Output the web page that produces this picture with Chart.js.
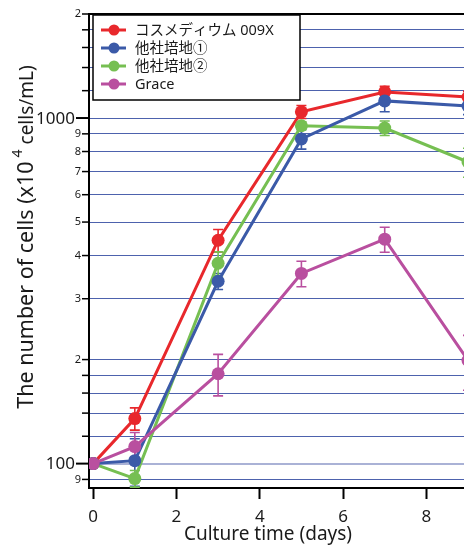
<!DOCTYPE html>
<html>
<head>
<meta charset="utf-8">
<script src="https://cdn.jsdelivr.net/npm/chart.js@4"></script>
<style>
  html, body { margin: 0; padding: 0; background: #fff; overflow: hidden; }
  #wrap { width: 464px; height: 545px; overflow: hidden; }
</style>
</head>
<body>
<div id="wrap"><canvas id="cellChart" width="487" height="545"></canvas></div>
<script>
// data
const days = [0, 1, 3, 5, 7, 9];
const cosmedium = [100, 135, 443, 1042, 1190, 1150];
const cosmediumErr = [0, 10, 33, 45, 45, 45];
const other1 = [100, 102, 337, 870, 1121, 1083];
const other1Err = [0, 16, 18, 57, 78, 60];
const other2 = [100, 90.5, 380, 950, 935, 746];
const other2Err = [0, 5, 30, 25, 45, 72];
const grace = [100, 112, 182, 355, 446, 199];
const graceErr = [0, 11, 25, 30, 37, 36];

const seriesNames = ['コスメディウム 009X', '他社培地①', '他社培地②', 'Grace'];
const xTicks = [0, 2, 4, 6, 8];
const yTicks = [90, 100, 120, 140, 160, 180, 200, 300, 400, 500, 600, 700, 800, 900,
                1000, 1200, 1400, 1600, 1800, 2000];
const yTickLabels = {90: '9', 100: '100', 200: '2', 300: '3', 400: '4', 500: '5', 600: '6',
                     700: '7', 800: '8', 900: '9', 1000: '1000', 2000: '2'};

const FONT = "'Noto Sans', 'Noto Sans CJK JP', sans-serif";

function series(label, values, errs, color, order) {
    return {
        label: label,
        data: days.map((d, i) => ({ x: d, y: values[i] })),
        errors: errs,
        borderColor: color,
        backgroundColor: color,
        borderWidth: 3,
        pointRadius: 6.5,
        pointHoverRadius: 6.5,
        pointBorderWidth: 0,
        tension: 0,
        order: order
    };
}

// error bars, drawn under the lines
const errorBars = {
    id: 'errorBars',
    beforeDatasetsDraw(chart) {
        const { ctx, chartArea, scales: { x, y } } = chart;
        ctx.save();
        ctx.beginPath();
        ctx.rect(chartArea.left, chartArea.top, chartArea.right - chartArea.left, chartArea.bottom - chartArea.top);
        ctx.clip();
        chart.data.datasets.forEach(ds => {
            ctx.strokeStyle = ds.borderColor;
            ctx.lineWidth = 1.6;
            ds.data.forEach((p, i) => {
                const e = ds.errors[i];
                if (!e) return;
                const px = x.getPixelForValue(p.x);
                const top = y.getPixelForValue(p.y + e);
                const bot = y.getPixelForValue(p.y - e);
                ctx.beginPath();
                ctx.moveTo(px, top); ctx.lineTo(px, bot);
                ctx.moveTo(px - 5, top); ctx.lineTo(px + 5, top);
                ctx.moveTo(px - 5, bot); ctx.lineTo(px + 5, bot);
                ctx.stroke();
            });
        });
        ctx.restore();
    }
};

// frame, y tick marks/labels, axis titles, legend box
const decorations = {
    id: 'decorations',
    afterDraw(chart) {
        const { ctx, chartArea, scales: { y } } = chart;
        const left = chartArea.left;
        ctx.save();

        // top frame line
        ctx.strokeStyle = '#000';
        ctx.lineWidth = 2;
        ctx.beginPath();
        ctx.moveTo(left - 1, chartArea.top);
        ctx.lineTo(chartArea.right, chartArea.top);
        ctx.stroke();

        // y ticks and labels
        ctx.fillStyle = '#1a1a1a';
        ctx.textBaseline = 'middle';
        ctx.textAlign = 'right';
        yTicks.forEach(v => {
            const py = y.getPixelForValue(v);
            const major = (v === 100 || v === 1000);
            const len = major ? 13 : 7;
            ctx.lineWidth = major ? 2 : 1.5;
            ctx.beginPath();
            ctx.moveTo(left - len, py);
            ctx.lineTo(left, py);
            ctx.stroke();
            const lab = yTickLabels[v];
            if (lab) {
                ctx.font = (major ? '17px ' : '11px ') + FONT;
                ctx.fillText(lab, left - len - 1, py + (major ? 1 : 0));
            }
        });

        // x axis title
        ctx.textAlign = 'center';
        ctx.font = '19px ' + FONT;
        ctx.fillText('Culture time (days)', 268, 535);

        // y axis title with superscript
        ctx.save();
        ctx.translate(25, 237);
        ctx.rotate(-Math.PI / 2);
        ctx.textAlign = 'left';
        ctx.textBaseline = 'alphabetic';
        const p1 = 'The number of cells (x10';
        const p2 = '4';
        const p3 = ' cells/mL)';
        ctx.font = '21.5px ' + FONT;
        const w1 = ctx.measureText(p1).width;
        ctx.font = '14px ' + FONT;
        const w2 = ctx.measureText(p2).width;
        ctx.font = '19px ' + FONT;
        const w3 = ctx.measureText(p3).width;
        let sx = -(w1 + w2 + 4 + w3) / 2;
        ctx.font = '21.5px ' + FONT;
        ctx.fillText(p1, sx, 8);
        sx += w1 + 4;
        ctx.font = '14px ' + FONT;
        ctx.fillText(p2, sx, -3);
        sx += w2;
        ctx.font = '19px ' + FONT;
        ctx.fillText(p3, sx, 8);
        ctx.restore();

        // legend
        const bx = 93, by = 15, bw = 207, bh = 85;
        ctx.fillStyle = '#fff';
        ctx.fillRect(bx, by, bw, bh);
        ctx.strokeStyle = '#000';
        ctx.lineWidth = 1.5;
        ctx.strokeRect(bx, by, bw, bh);
        ctx.textAlign = 'left';
        ctx.textBaseline = 'middle';
        ctx.font = '14.5px ' + FONT;
        chart.data.datasets.forEach((ds, i) => {
            const ly = 30 + i * 18;
            ctx.strokeStyle = ds.borderColor;
            ctx.lineWidth = 3;
            ctx.beginPath();
            ctx.moveTo(101, ly); ctx.lineTo(126, ly);
            ctx.stroke();
            ctx.fillStyle = ds.borderColor;
            ctx.beginPath();
            ctx.arc(114, ly, 5.5, 0, Math.PI * 2);
            ctx.fill();
            ctx.fillStyle = '#1a1a1a';
            ctx.fillText(ds.label, 135, ly + 1);
        });
        ctx.restore();
    }
};

document.addEventListener("DOMContentLoaded", () => {
    const ctx = document.getElementById('cellChart');
    new Chart(ctx, {
        type: 'line',
        data: {
            datasets: [
                series(seriesNames[0], cosmedium, cosmediumErr, '#e8282c', 3),
                series(seriesNames[1], other1, other1Err, '#3b5aa8', 1),
                series(seriesNames[2], other2, other2Err, '#76bf52', 2),
                series(seriesNames[3], grace, graceErr, '#b94f9f', 0)
            ]
        },
        options: {
            responsive: false,
            animation: false,
            layout: { padding: { top: 14, right: 0, left: 0, bottom: 0 } },
            plugins: { legend: { display: false }, tooltip: { enabled: false } },
            scales: {
                x: {
                    type: 'linear',
                    min: -0.1,
                    max: 9.3,
                    afterBuildTicks: axis => { axis.ticks = xTicks.map(v => ({ value: v })); },
                    afterFit: axis => { axis.height = 57; },
                    grid: { drawOnChartArea: false, drawTicks: true, tickLength: 11, tickColor: '#000', tickWidth: 2 },
                    border: { color: '#000', width: 2 },
                    ticks: { color: '#1a1a1a', font: { family: FONT, size: 17 }, padding: 8, maxRotation: 0 }
                },
                y: {
                    type: 'logarithmic',
                    min: 85,
                    max: 2000,
                    afterBuildTicks: axis => { axis.ticks = yTicks.map(v => ({ value: v })); },
                    afterFit: axis => { axis.width = 89; },
                    ticks: { display: false },
                    grid: {
                        drawTicks: false,
                        color: c => (c.tick && c.tick.value === 100) ? '#aab2d6' : '#4d62ad',
                        lineWidth: c => (c.tick && c.tick.value === 100) ? 2 : 1
                    },
                    border: { color: '#000', width: 2 }
                }
            }
        },
        plugins: [errorBars, decorations]
    });
});
</script>
</body>
</html>
